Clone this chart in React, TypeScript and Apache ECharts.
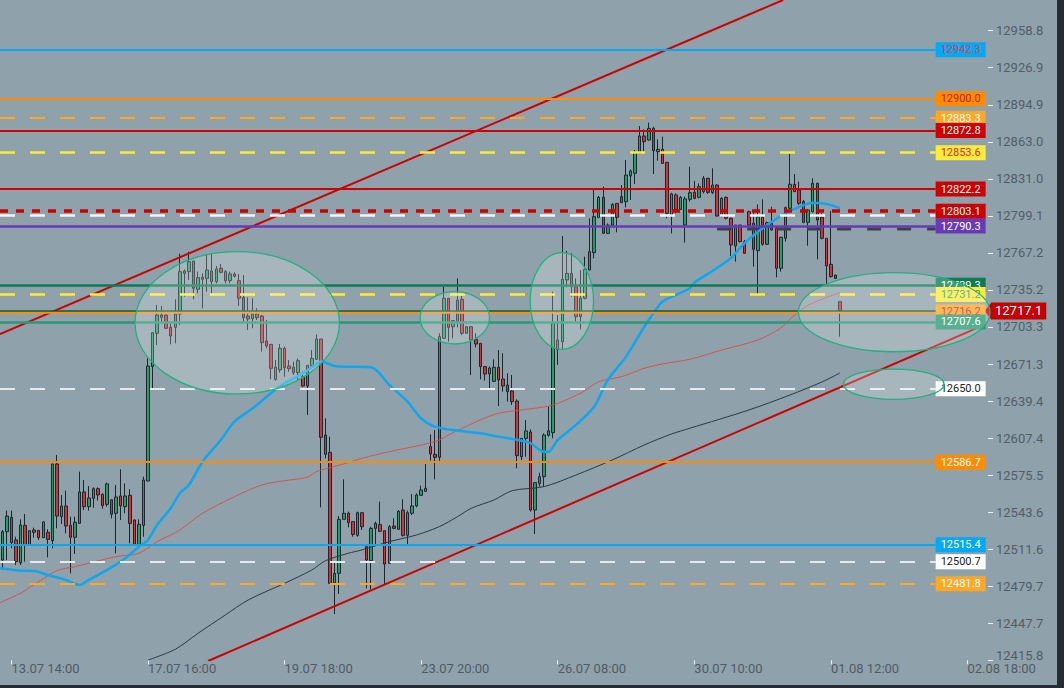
import { useEffect, useRef } from "react";
import * as echarts from "echarts";

// open, high, low, close
const candles: [number, number, number, number][] = [
  [12502.3, 12528.2, 12493.7, 12526.7], [12526.7, 12544.9, 12502.3, 12540.2], [12539.1, 12544.9, 12512.4, 12517.3],
  [12519.6, 12522.4, 12498.0, 12500.9], [12500.0, 12537.4, 12498.0, 12532.5], [12532.2, 12542.0, 12500.9, 12515.3],
  [12515.8, 12527.6, 12515.8, 12527.6], [12528.2, 12530.2, 12521.6, 12526.2], [12527.9, 12527.9, 12519.6, 12521.6],
  [12521.6, 12535.9, 12521.6, 12535.1], [12526.2, 12528.8, 12504.6, 12520.1], [12519.0, 12585.1, 12512.4, 12585.1],
  [12585.1, 12592.9, 12529.6, 12540.2], [12539.7, 12558.4, 12533.4, 12548.9], [12548.9, 12562.1, 12525.3, 12531.6],
  [12532.2, 12539.7, 12490.8, 12521.9], [12521.9, 12539.7, 12507.5, 12534.8], [12533.9, 12578.5, 12533.9, 12561.0],
  [12561.0, 12571.3, 12545.4, 12548.3], [12548.3, 12566.1, 12544.9, 12555.8], [12555.5, 12565.0, 12547.4, 12563.8],
  [12563.8, 12565.0, 12553.5, 12558.4], [12559.0, 12559.8, 12546.6, 12549.2], [12550.3, 12569.0, 12548.3, 12567.9],
  [12554.3, 12554.3, 12538.2, 12541.7], [12542.6, 12567.0, 12508.1, 12556.6], [12557.5, 12580.5, 12536.8, 12548.9],
  [12548.3, 12568.4, 12542.6, 12557.5], [12558.1, 12563.3, 12516.7, 12533.9], [12536.8, 12537.4, 12514.4, 12515.8],
  [12515.8, 12537.4, 12514.4, 12533.1], [12532.2, 12574.2, 12522.4, 12571.3], [12570.4, 12676.2, 12570.4, 12669.6],
  [12669.1, 12698.4, 12650.4, 12698.4], [12697.8, 12722.2, 12687.7, 12713.6], [12711.6, 12721.4, 12707.9, 12713.6],
  [12713.6, 12713.6, 12702.1, 12702.1], [12703.0, 12706.4, 12688.3, 12695.5], [12703.0, 12727.1, 12689.2, 12714.5],
  [12714.5, 12766.5, 12705.0, 12751.0], [12751.6, 12753.0, 12729.4, 12749.5], [12751.0, 12768.2, 12743.8, 12759.6],
  [12760.2, 12760.2, 12727.1, 12736.6], [12735.7, 12751.0, 12732.3, 12745.8], [12746.1, 12749.5, 12719.4, 12744.4],
  [12745.2, 12765.4, 12733.7, 12752.4], [12751.6, 12766.2, 12732.3, 12742.4], [12742.4, 12755.9, 12740.9, 12753.3],
  [12753.9, 12757.6, 12749.5, 12750.4], [12751.0, 12752.4, 12740.9, 12743.2], [12743.2, 12751.0, 12740.9, 12749.0],
  [12749.0, 12750.4, 12746.1, 12747.0], [12743.2, 12749.0, 12721.4, 12728.0], [12728.8, 12748.1, 12707.9, 12711.3],
  [12712.7, 12728.8, 12700.7, 12710.2], [12710.5, 12728.0, 12702.1, 12714.5], [12714.5, 12719.4, 12709.3, 12711.3],
  [12712.7, 12713.6, 12682.0, 12689.7], [12691.2, 12709.3, 12684.9, 12686.9], [12688.3, 12688.3, 12658.1, 12667.6],
  [12658.1, 12674.8, 12657.0, 12668.5], [12666.2, 12688.6, 12663.9, 12684.9], [12684.9, 12686.3, 12660.4, 12668.2],
  [12669.6, 12674.8, 12664.7, 12667.3], [12668.5, 12673.4, 12661.9, 12663.9], [12663.9, 12676.2, 12657.6, 12674.2],
  [12660.4, 12664.7, 12651.8, 12652.4], [12652.4, 12670.2, 12627.4, 12670.2], [12669.6, 12683.4, 12667.6, 12676.2],
  [12675.4, 12696.9, 12674.8, 12692.9], [12692.9, 12692.9, 12547.7, 12608.1], [12610.1, 12624.5, 12590.0, 12593.4],
  [12595.2, 12608.7, 12482.2, 12482.2], [12482.2, 12500.9, 12455.7, 12490.8], [12490.8, 12540.2, 12473.0, 12537.4],
  [12537.4, 12571.9, 12537.4, 12542.6], [12542.6, 12544.0, 12530.5, 12534.5], [12535.4, 12535.4, 12522.4, 12524.4],
  [12523.6, 12544.0, 12522.4, 12543.1], [12543.1, 12543.1, 12528.2, 12531.0], [12513.8, 12515.3, 12477.9, 12502.3],
  [12501.7, 12531.0, 12477.0, 12529.6], [12529.6, 12535.4, 12516.1, 12533.9], [12532.8, 12552.6, 12526.8, 12527.0],
  [12527.6, 12527.6, 12480.8, 12498.8], [12499.4, 12532.5, 12499.4, 12531.0], [12531.6, 12538.3, 12528.8, 12529.6],
  [12528.8, 12545.4, 12528.2, 12544.3], [12545.4, 12554.6, 12522.4, 12523.6], [12523.6, 12544.9, 12515.3, 12543.1],
  [12542.6, 12559.2, 12541.1, 12548.9], [12548.9, 12559.8, 12547.7, 12558.4], [12558.1, 12566.4, 12557.5, 12562.7],
  [12561.5, 12585.1, 12561.3, 12564.1], [12600.1, 12610.7, 12588.0, 12593.7], [12593.4, 12614.4, 12571.9, 12590.9],
  [12590.9, 12697.8, 12588.0, 12694.9], [12693.5, 12738.0, 12693.5, 12728.0], [12728.0, 12728.0, 12690.6, 12702.9],
  [12703.5, 12709.3, 12693.5, 12708.7], [12707.9, 12745.2, 12702.9, 12726.5], [12727.1, 12730.0, 12696.4, 12697.8],
  [12697.8, 12704.1, 12697.8, 12703.5], [12703.5, 12704.1, 12661.9, 12692.1], [12692.6, 12697.8, 12685.7, 12688.6],
  [12689.2, 12689.2, 12658.1, 12669.1], [12669.1, 12669.1, 12657.0, 12662.7], [12662.7, 12669.1, 12650.4, 12667.9],
  [12656.4, 12675.4, 12655.8, 12668.5], [12668.5, 12683.4, 12635.1, 12657.6], [12658.4, 12680.6, 12647.5, 12652.4],
  [12653.2, 12663.3, 12638.9, 12647.5], [12648.1, 12661.9, 12636.0, 12638.9], [12639.4, 12640.9, 12581.4, 12592.3],
  [12591.4, 12607.2, 12588.5, 12607.2], [12607.2, 12623.0, 12591.4, 12613.6], [12612.7, 12615.0, 12544.0, 12545.4],
  [12545.4, 12569.0, 12524.7, 12569.0], [12568.4, 12577.6, 12565.5, 12574.2], [12574.2, 12611.5, 12565.5, 12610.1],
  [12609.8, 12634.5, 12608.7, 12613.8], [12612.1, 12733.7, 12607.2, 12706.4], [12684.0, 12713.6, 12670.5, 12692.1],
  [12690.6, 12781.7, 12684.0, 12744.4], [12743.8, 12768.8, 12737.5, 12749.5], [12749.5, 12766.8, 12729.4, 12738.0],
  [12738.0, 12745.2, 12707.9, 12712.2], [12712.2, 12752.4, 12701.3, 12728.0], [12728.0, 12763.9, 12727.1, 12753.0],
  [12752.4, 12797.0, 12752.4, 12768.2], [12767.4, 12821.4, 12762.5, 12798.4], [12797.8, 12816.2, 12797.0, 12815.1],
  [12815.1, 12824.3, 12783.5, 12784.0], [12784.0, 12792.6, 12783.5, 12791.2], [12791.2, 12809.9, 12789.8, 12809.0],
  [12809.9, 12809.9, 12784.9, 12797.8], [12815.7, 12825.7, 12810.5, 12810.5], [12811.3, 12847.3, 12806.4, 12834.3],
  [12833.5, 12839.2, 12812.8, 12837.8], [12835.8, 12855.9, 12826.6, 12853.0], [12853.0, 12876.6, 12853.0, 12868.0],
  [12868.0, 12873.7, 12854.5, 12863.1], [12864.5, 12879.5, 12863.9, 12874.6], [12874.6, 12876.0, 12835.2, 12855.3],
  [12854.5, 12865.1, 12846.7, 12856.5], [12856.5, 12867.4, 12843.8, 12844.4], [12845.3, 12845.3, 12797.0, 12801.3],
  [12799.9, 12819.1, 12784.0, 12818.0], [12817.1, 12818.5, 12801.3, 12804.7], [12804.7, 12816.2, 12804.2, 12815.1],
  [12791.2, 12815.7, 12776.0, 12813.7], [12813.4, 12841.5, 12811.3, 12819.1], [12819.4, 12829.2, 12813.4, 12814.2],
  [12815.1, 12827.2, 12814.2, 12824.3], [12820.0, 12833.5, 12818.5, 12831.5], [12831.5, 12832.0, 12818.0, 12819.4],
  [12819.1, 12840.1, 12818.0, 12825.7], [12825.7, 12826.3, 12798.4, 12799.0], [12799.0, 12815.1, 12797.8, 12814.2],
  [12815.1, 12815.7, 12796.1, 12797.0], [12797.0, 12797.5, 12764.5, 12774.0], [12773.1, 12791.2, 12759.6, 12791.2],
  [12791.2, 12791.2, 12776.0, 12776.9], [12776.9, 12778.3, 12766.2, 12766.8], [12802.7, 12803.6, 12788.4, 12791.2],
  [12792.7, 12803.3, 12755.3, 12770.3], [12769.1, 12809.0, 12730.9, 12798.4], [12798.4, 12813.4, 12773.4, 12774.6],
  [12774.6, 12794.1, 12774.0, 12793.2], [12792.7, 12807.0, 12786.4, 12786.9], [12788.4, 12789.8, 12746.1, 12753.9],
  [12753.9, 12781.2, 12751.0, 12780.6], [12779.7, 12807.0, 12776.9, 12806.2], [12805.6, 12852.5, 12805.0, 12826.3],
  [12826.3, 12835.2, 12820.0, 12820.0], [12821.4, 12828.6, 12808.5, 12809.9], [12811.4, 12812.8, 12792.7, 12793.5],
  [12793.5, 12804.7, 12773.4, 12804.2], [12802.7, 12831.5, 12801.9, 12827.2], [12827.2, 12827.7, 12761.6, 12795.5],
  [12797.8, 12801.3, 12778.9, 12779.7], [12779.7, 12779.7, 12739.5, 12755.9], [12757.3, 12803.3, 12745.8, 12746.7],
  [12748.1, 12748.1, 12744.6, 12745.2], [12725.1, 12725.1, 12694.9, 12717.1],
];

// [bar index, price] read along each average
const maBlue: [number, number][] = [
  [-0.5, 12495.2], [4, 12493.1], [7, 12492.8], [10, 12489.4], [14, 12485.1], [17, 12480.8], [19, 12485.1],
  [24, 12496.0], [27, 12503.8], [30, 12513.8], [32, 12519.6], [34, 12532.5], [37, 12546.9], [39, 12559.9],
  [41, 12567.0], [44, 12587.1], [48, 12605.8], [51, 12621.6], [55, 12633.2], [59, 12646.1], [62, 12654.7],
  [66, 12663.3], [69, 12671.4], [70, 12673.4], [73, 12669.6], [76, 12669.0], [81, 12668.5], [85, 12653.3],
  [89, 12638.9], [92, 12624.5], [95, 12617.3], [100, 12613.9], [105, 12611.6], [109, 12608.7], [114, 12605.2],
  [116, 12603.0], [119, 12595.7], [120, 12595.7], [122, 12605.8], [126, 12618.8], [130, 12634.5], [133, 12657.6],
  [137, 12677.7], [141, 12703.5], [143, 12715.1], [145, 12725.1], [148, 12730.9], [151, 12736.7], [152, 12741.5],
  [156, 12751.6], [160, 12762.5], [163, 12775.5], [167, 12788.4], [171, 12799.0], [174, 12805.1], [178, 12810.5],
  [180, 12810.0], [182, 12808.5], [184, 12805.7],
];
const maRed: [number, number][] = [
  [-0.5, 12465.5], [4, 12473.6], [8, 12483.6], [12, 12493.1], [16, 12496.6], [21, 12501.5], [25, 12505.2],
  [30, 12508.1], [34, 12518.1], [37, 12523.9], [39, 12528.2], [44, 12542.6], [51, 12556.9], [57, 12567.0],
  [62, 12570.7], [67, 12573.7], [69, 12578.5], [72, 12581.9], [76, 12586.3], [79, 12590.0], [85, 12595.7],
  [95, 12604.4], [99, 12612.1], [105, 12623.1], [109, 12628.9], [114, 12631.7], [117, 12633.2], [121, 12636.0],
  [127, 12646.1], [131, 12656.1], [136, 12660.4], [141, 12667.7], [145, 12671.4], [151, 12675.4], [158, 12683.4],
  [166, 12692.1], [171, 12702.4], [173, 12710.0], [177, 12722.0], [184, 12732.9],
];
const maDark: [number, number][] = [
  [32, 12416.0], [38, 12425.3], [43, 12439.1], [49, 12454.9], [54, 12467.8], [62, 12482.2], [68, 12493.7],
  [71, 12501.7], [76, 12508.1], [79, 12511.0], [85, 12518.1], [91, 12523.9], [96, 12531.1], [100, 12539.7],
  [103, 12546.9], [108, 12554.1], [112, 12562.1], [119, 12565.6], [126, 12575.6], [134, 12588.6], [141, 12601.5],
  [147, 12611.0], [151, 12615.9], [164, 12631.7], [173, 12644.6], [180, 12655.8], [184, 12663.6],
];

const upperChannel: [number, number][] = [[-0.5, 12697.2], [171.5, 12985.3]];
const lowerChannel: [number, number][] = [[45.2, 12415.2], [215.8, 12705.3]];
const shadowLevel: [number, number][] = [[157, 12787.8], [205, 12787.8]];

// centre bar, centre price, half-width in bars, half-height in price
const zones: [number, number, number, number][] = [
  [51.6, 12706.9, 22.45, 61.4],
  [99.4, 12711.2, 7.62, 22.6],
  [122.9, 12725.7, 6.96, 41.7],
  [195.9, 12716.0, 21.04, 34.1],
  [195.8, 12653.9, 11.05, 13.1],
];

const levelPrices = [
  12942.3, 12900.0, 12883.3, 12872.8, 12853.6, 12822.2, 12800.0, 12803.1, 12790.3,
  12739.3, 12731.2, 12716.2, 12707.6, 12650.0, 12586.7, 12515.4, 12500.7, 12481.8,
];
const lastPrice = 12717.1;

const tickLabels = ["13.07 14:00", "17.07 16:00", "19.07 18:00", "23.07 20:00", "26.07 08:00", "30.07 10:00", "01.08 12:00", "02.08 18:00"];
const firstTick = 2;
const tickEvery = 30;
const SLOTS = 217;
const LEVEL_END = 205;

const Y_MIN = 12415.8;
const Y_STEP = 543 / 17;
const Y_MAX = 12985.27;

const DASH = [15, 15];
// line colour, dash, width, tag background, tag text (same order as levelPrices)
const levelLook: [string, number[] | "solid", number, string | null, string][] = [
  ["#03a9f4", "solid", 2, "#03a9f4", "#e2403c"],
  ["#ff8c00", "solid", 2, "#ff8c00", "#b3261e"],
  ["#ffa726", DASH, 2, "#ffa726", "#ffffff"],
  ["#cc0000", "solid", 2, "#cc0000", "#ffffff"],
  ["#ffeb3b", DASH, 2.5, "#ffeb3b", "#d32f2f"],
  ["#cc0000", "solid", 2, "#cc0000", "#ffffff"],
  ["#f2f4f5", DASH, 2.5, null, "#000"],
  ["#cc0000", [8, 8], 3.5, "#cc0000", "#ffffff"],
  ["#673ab7", "solid", 2.5, "#673ab7", "#ffffff"],
  ["#0b7a55", "solid", 2.5, "#0b7a55", "#ffffff"],
  ["#ffeb3b", DASH, 2.5, "#ffeb3b", "#2e9e78"],
  ["#ff8f00", "solid", 2.5, "#ffa726", "#c62828"],
  ["#2a9a74", "solid", 2.5, "#2a9a74", "#ffffff"],
  ["#e6eaec", DASH, 2, "#ffffff", "#222222"],
  ["#ff8c00", "solid", 2, "#ff8c00", "#ffffff"],
  ["#03a9f4", "solid", 2, "#03a9f4", "#ffffff"],
  ["#e6eaec", DASH, 2, "#ffffff", "#222222"],
  ["#ffa726", DASH, 2, "#ffa726", "#ffffff"],
];

const FONT = "Roboto";
const isTick = (i: number) => i >= firstTick && (i - firstTick) % tickEvery === 0;

function buildOption() {
  const slots = Array.from({ length: SLOTS }, (_, i) => String(i));

  const levelLines: any[] = levelPrices.map((p, k) => {
    const [color, dash, width, bg, txt] = levelLook[k];
    return [
      {
        coord: [-0.5, p],
        lineStyle: { color, type: dash, width, opacity: 1 },
        label: bg
          ? {
              show: true,
              position: "end",
              distance: 0,
              formatter: p.toFixed(1),
              backgroundColor: bg,
              color: txt,
              fontSize: 11,
              lineHeight: 12,
              fontFamily: FONT,
              padding: [2, 5, 1, 5],
            }
          : { show: false },
      },
      { coord: [LEVEL_END, p] },
    ];
  });
  levelLines.push([
    {
      coord: [-0.5, lastPrice],
      lineStyle: { color: "#0b5d3e", type: "solid", width: 1.5 },
      label: {
        show: true,
        position: "end",
        distance: 3,
        formatter: lastPrice.toFixed(1),
        backgroundColor: "#c40000",
        color: "#ffffff",
        fontSize: 13,
        lineHeight: 14,
        fontFamily: FONT,
        padding: [2, 4, 1, 4],
      },
    },
    { coord: [SLOTS - 0.5, lastPrice] },
  ]);

  return {
    animation: false,
    backgroundColor: "#8fa2ab",
    textStyle: { fontFamily: FONT },
    grid: { left: 0, right: 76, top: 0, bottom: 27.7, outerBoundsMode: "none" },
    xAxis: [
      {
        type: "category",
        data: slots,
        boundaryGap: true,
        axisLine: { show: false, onZero: false },
        axisTick: { show: true, alignWithLabel: true, interval: isTick, length: 4, lineStyle: { color: "#eef2f4" } },
        axisLabel: {
          interval: isTick,
          formatter: (_v: string, idx: number) => tickLabels[(idx - firstTick) / tickEvery] ?? "",
          align: "left",
          margin: 2,
          color: "#4f5a63",
          fontSize: 13,
          fontFamily: FONT,
        },
        splitLine: { show: false },
      },
      { type: "value", min: -0.5, max: SLOTS - 0.5, show: false, axisLine: { onZero: false } },
    ],
    yAxis: {
      type: "value",
      position: "right",
      min: Y_MIN,
      max: Y_MAX,
      interval: Y_STEP,
      axisLine: { show: false, onZero: false },
      axisTick: { show: true, length: 5, lineStyle: { color: "#eef2f4" } },
      splitLine: { show: false },
      axisLabel: {
        showMaxLabel: false,
        margin: 8,
        color: "#525d66",
        fontSize: 13,
        fontFamily: FONT,
        formatter: (v: number) => (Math.abs(v - Y_MIN) < 0.01 ? `{b|${v.toFixed(1)}}` : v.toFixed(1)),
        rich: { b: { color: "#525d66", fontSize: 13, fontFamily: FONT, padding: [0, 0, 10, 0] } },
      },
    },
    graphic: [
      { type: "rect", right: 0, top: 0, shape: { width: 7, height: 688 }, style: { fill: "#262c31" }, z: 100 },
      { type: "rect", left: 0, bottom: 0, shape: { width: 1064, height: 3 }, style: { fill: "#262c31" }, z: 100 },
    ],
    series: [
      {
        type: "candlestick",
        xAxisIndex: 0,
        yAxisIndex: 0,
        data: candles.map(([o, h, l, c]) => [o, c, l, h]),
        barWidth: 3,
        z: 2,
        itemStyle: {
          color: "#23a068",
          color0: "#d3343a",
          borderColor: "#1d262c",
          borderColor0: "#1d262c",
          borderWidth: 1,
        },
      },
      {
        type: "line",
        xAxisIndex: 1,
        yAxisIndex: 0,
        data: [[-0.5, lastPrice]],
        showSymbol: false,
        lineStyle: { opacity: 0 },
        z: 3,
        markLine: { silent: true, symbol: ["none", "none"], data: levelLines },
        markPoint: {
          silent: true,
          symbol: "path://M0,5L6,0L6,10Z",
          symbolSize: [7, 17],
          symbolKeepAspect: false,
          itemStyle: { color: "#c40000" },
          label: { show: false },
          data: [{ coord: [SLOTS - 0.5, lastPrice] }],
        },
      },
      {
        type: "line",
        xAxisIndex: 1,
        data: shadowLevel,
        showSymbol: false,
        z: 3,
        lineStyle: { color: "#3a4249", width: 3, type: [14, 16] },
      },
      {
        type: "line",
        xAxisIndex: 1,
        data: maDark,
        showSymbol: false,
        smooth: 0.3,
        z: 4,
        lineStyle: { color: "#2d3840", width: 1 },
      },
      {
        type: "line",
        xAxisIndex: 1,
        data: maRed,
        showSymbol: false,
        smooth: 0.3,
        z: 4,
        lineStyle: { color: "#e2473f", width: 1, opacity: 0.85 },
      },
      {
        type: "line",
        xAxisIndex: 1,
        data: maBlue,
        showSymbol: false,
        smooth: 0.3,
        z: 4,
        lineStyle: { color: "#0ea7ef", width: 2.5 },
      },
      {
        type: "line",
        xAxisIndex: 1,
        data: upperChannel,
        showSymbol: false,
        z: 4,
        lineStyle: { color: "#cc0000", width: 2 },
      },
      {
        type: "line",
        xAxisIndex: 1,
        data: lowerChannel,
        showSymbol: false,
        z: 4,
        lineStyle: { color: "#cc0000", width: 2 },
      },
      {
        type: "custom",
        xAxisIndex: 1,
        yAxisIndex: 0,
        data: zones,
        encode: { x: 0, y: 1 },
        silent: true,
        z: 6,
        renderItem: (_params: any, api: any) => {
          const c = api.coord([api.value(0), api.value(1)]);
          const s = api.size([api.value(2), api.value(3)], [api.value(0), api.value(1)]);
          return {
            type: "ellipse",
            shape: { cx: c[0], cy: c[1], rx: s[0], ry: s[1] },
            style: { fill: "rgba(255,255,255,0.22)", stroke: "#22b07f", lineWidth: 1.3 },
          };
        },
      },
    ],
  };
}

export default function App() {
  const ref = useRef<HTMLDivElement>(null);
  useEffect(() => {
    if (!ref.current) return;
    const chart = echarts.init(ref.current, null, { renderer: "svg" });
    chart.setOption(buildOption() as any);
    return () => chart.dispose();
  }, []);
  return <div ref={ref} style={{ position: "fixed", left: 0, top: 0, width: 1064, height: 688 }} />;
}
